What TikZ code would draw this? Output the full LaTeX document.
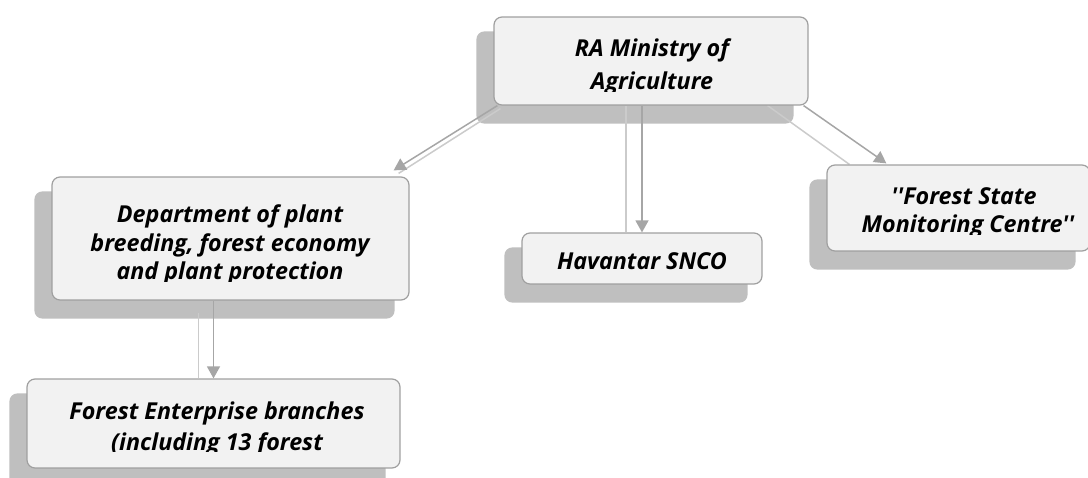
\documentclass[tikz,border=0pt]{standalone}
\usepackage{fontspec}
\setmainfont{Open Sans}[Ligatures=TeXOff]
\usetikzlibrary{arrows.meta,calc}
\pgfdeclarelayer{bg}
\pgfdeclarelayer{fg}
\pgfsetlayers{bg,main,fg}
\definecolor{shadowc}{HTML}{BFBFBF}
\definecolor{boxc}{HTML}{F2F2F2}
\definecolor{borderc}{HTML}{A0A0A0}
\definecolor{linec}{HTML}{A6A6A6}
\definecolor{lightc}{HTML}{CBCBCB}
\tikzset{
  box/.style={draw=borderc, fill=boxc, rounded corners=8pt, line width=1.2pt, inner sep=0pt},
  lbl/.style={anchor=base, inner sep=0pt, font=\fontsize{23.3}{29}\selectfont\bfseries\itshape, text=black},
  shade/.style={fill=shadowc, rounded corners=8pt},
  conn/.style={draw=linec, line width=1.5pt, -{Triangle[length=12pt,width=13pt]}},
  connlight/.style={draw=lightc, line width=1.5pt}
}
\begin{document}
\begin{tikzpicture}[x=1pt,y=-1pt]
\useasboundingbox (0,0) rectangle (1088,478);
% ---------- boxes and their texts ----------
\begin{pgfonlayer}{fg}
\node[box, minimum width=314pt, minimum height=88pt] (top) at (651,61) {};
\node[box, minimum width=357pt, minimum height=123pt] (dept) at (230.5,238.5) {};
\node[box, minimum width=240pt, minimum height=51pt] (hav) at (642,258.5) {};
\node[box, minimum width=263pt, minimum height=86pt] (state) at (958.5,208) {};
\node[box, minimum width=373pt, minimum height=89pt] (ent) at (213.5,423.5) {};
\begin{scope}
  \clip (494,17) rectangle (808,92);
  \node[lbl] (top1) at (652,57) {RA Ministry of};
  \node[lbl] (top2) at (652,90) {Agriculture};
\end{scope}
\begin{scope}
  \clip (52,177) rectangle (409,282);
  \node[lbl] (dept1) at (230,223) {Department of plant};
  \node[lbl] (dept2) at (230,252) {breeding, forest economy};
  \node[lbl] (dept3) at (230,280) {and plant protection};
\end{scope}
\begin{scope}
  \clip (522,233) rectangle (762,273);
  \node[lbl] (hav1) at (642,270) {Havantar SNCO};
\end{scope}
\begin{scope}
  \clip (827,165) rectangle (1088,235);
  \node[lbl] (state1) at (964,205) {''Forest State};
  \node[lbl] (state2) at (968,233) {Monitoring Centre''};
\end{scope}
\begin{scope}
  \clip (27,379) rectangle (400,452);
  \node[lbl] (ent1) at (217,420) {Forest Enterprise branches};
  \node[lbl] (ent2) at (217,450) {(including 13 forest};
\end{scope}
\end{pgfonlayer}
% ---------- shadows ----------
\begin{pgfonlayer}{bg}
\foreach \n in {top,dept,hav,state,ent}{
  \fill[shade] ([shift={(-17,15)}]\n.north west) rectangle ([shift={(-15,18)}]\n.south east);
}
\end{pgfonlayer}
% ---------- connectors ----------
\draw[connlight] ($(top.south west)+(7,3)$) -- ($(dept.north east)+(-11,-3)$);
\draw[conn] ($(top.south west)+(4,0)$) -- ($(dept.north east)+(-16,-6)$);
\draw[connlight] ($(hav.north |- top.south)+(-16,0)$) -- ($(hav.north)+(-16,0)$);
\draw[conn] (hav.north |- top.south) -- (hav.north);
\draw[connlight] ($(top.south east)+(-41,0)$) -- ($(state.north west)+(23,0)$);
\draw[conn] ($(top.south east)+(-5,0)$) -- ($(state.north west)+(60,-1)$);
\draw[connlight] ($(ent.north |- dept.south)+(-15,12)$) -- ($(ent.north)+(-15,0)$);
\draw[conn] (ent.north |- dept.south) -- (ent.north);
\end{tikzpicture}
\end{document}
